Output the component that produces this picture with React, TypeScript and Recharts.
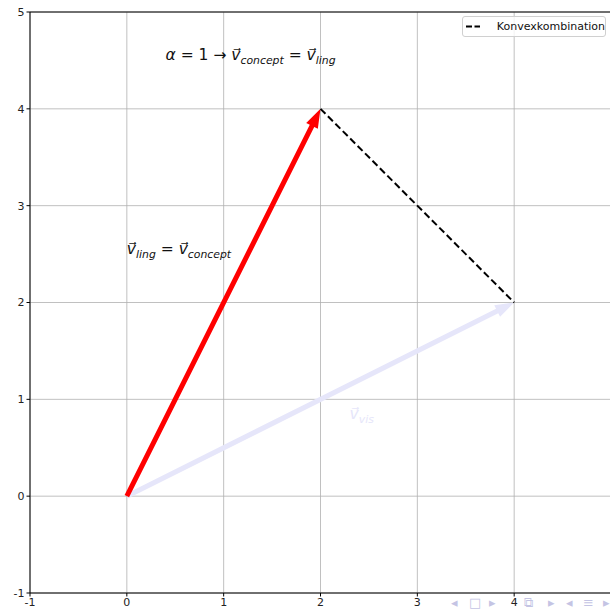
import { ScatterChart, Scatter, XAxis, YAxis, CartesianGrid, ReferenceLine } from 'recharts';

// vectors drawn as arrows / lines (data units)
const lingConcept = [{ x: 0, y: 0 }, { x: 2, y: 4 }];
const visVector = [{ x: 0, y: 0 }, { x: 4, y: 2 }];
const convexLine = [{ x: 2, y: 4 }, { x: 4, y: 2 }];

// annotation anchors
const notes = [
  { x: 0.4, y: 4.5, id: 'alpha' },
  { x: 0.0, y: 2.5, id: 'eq' },
  { x: 2.3, y: 0.8, id: 'vis' },
];

const xTicks = [-1, 0, 1, 2, 3, 4];
const yTicks = [-1, 0, 1, 2, 3, 4, 5];

// beamer navigation glyphs along the bottom edge
const navGlyphs = [
  { ch: '◂', left: 451 },
  { ch: '□', left: 469 },
  { ch: '▸', left: 489 },
  { ch: '⧉', left: 524 },
  { ch: '▸', left: 548 },
  { ch: '◂', left: 566 },
  { ch: '≡', left: 583 },
  { ch: '▸', left: 603 },
];

const RED = '#ff0000';
const LAVENDER = '#e6e6fa';
const FONT = 'DejaVu Sans, sans-serif';

type Pt = { x: number; y: number };

const arrowPoly = (p0: Pt, p1: Pt, w: number, headLen: number, headW: number) => {
  const dx = p1.x - p0.x;
  const dy = p1.y - p0.y;
  const len = Math.sqrt(dx * dx + dy * dy);
  const ux = dx / len, uy = dy / len;
  const nx = -uy, ny = ux;
  const bx = p1.x - ux * headLen, by = p1.y - uy * headLen;
  const pts = [
    [p0.x + nx * w / 2, p0.y + ny * w / 2],
    [bx + nx * w / 2, by + ny * w / 2],
    [bx + nx * headW / 2, by + ny * headW / 2],
    [p1.x, p1.y],
    [bx - nx * headW / 2, by - ny * headW / 2],
    [bx - nx * w / 2, by - ny * w / 2],
    [p0.x - nx * w / 2, p0.y - ny * w / 2],
  ];
  return pts.map((p) => p.join(',')).join(' ');
};

const makeArrow = (color: string) => (props: any) => {
  const pts: Pt[] = props.points || [];
  if (pts.length < 2) return <g />;
  return <polygon points={arrowPoly(pts[0], pts[1], 5, 19, 13)} fill={color} stroke="none" />;
};

const V = ({ sub, last }: { sub: string; last?: boolean }) => (
  <>
    <tspan fontStyle="italic">v⃗</tspan>
    <tspan fontStyle="italic" fontSize="0.7em" dy="4">{sub}</tspan>
    {!last && <tspan dy="-4">{' = '}</tspan>}
  </>
);

const NoteShape = (props: any) => {
  const { cx, cy, payload } = props;
  if (payload.id === 'alpha') {
    return (
      <text x={cx} y={cy} fontFamily={FONT} fontSize={15.5} fill="#111">
        <tspan fontStyle="italic">α</tspan>
        <tspan>{' = 1 → '}</tspan>
        <V sub="concept" />
        <V sub="ling" last />
      </text>
    );
  }
  if (payload.id === 'eq') {
    return (
      <text x={cx} y={cy} fontFamily={FONT} fontSize={15.5} fill="#111">
        <V sub="ling" />
        <V sub="concept" last />
      </text>
    );
  }
  return (
    <text x={cx} y={cy} fontFamily={FONT} fontSize={15.5} fill={LAVENDER}>
      <V sub="vis" last />
    </text>
  );
};

const tickStyle = { fill: '#222', fontSize: 11, fontFamily: FONT };

export default function App() {
  return (
    <div style={{ position: 'absolute', left: 0, top: 0, width: 610, height: 610, overflow: 'hidden', background: '#fff' }}>
      <ScatterChart width={640} height={610} margin={{ top: 12, right: 29, bottom: 0, left: 0 }}>
        <CartesianGrid stroke="#b0b0b0" strokeWidth={0.8} />
        <XAxis
          type="number"
          dataKey="x"
          domain={[-1, 5]}
          ticks={xTicks}
          allowDataOverflow
          height={17}
          tickSize={3.5}
          tickMargin={2}
          stroke="#000"
          tick={tickStyle}
          interval={0}
        />
        <YAxis
          type="number"
          dataKey="y"
          domain={[-1, 5]}
          ticks={yTicks}
          allowDataOverflow
          width={30}
          tickSize={3.5}
          tickMargin={2}
          stroke="#000"
          tick={tickStyle}
          interval={0}
        />
        <ReferenceLine y={5} stroke="#000" strokeWidth={1} />
        <ReferenceLine x={5} stroke="#000" strokeWidth={1} />
        <Scatter data={visVector} shape={() => <g />} line={makeArrow(LAVENDER)} isAnimationActive={false} />
        <Scatter data={lingConcept} shape={() => <g />} line={makeArrow(RED)} isAnimationActive={false} />
        <Scatter
          name="Konvexkombination"
          data={convexLine}
          shape={() => <g />}
          line={{ stroke: '#000', strokeWidth: 2, strokeDasharray: '7 3.5' }}
          fill="#000"
          isAnimationActive={false}
        />
        <Scatter data={notes} shape={NoteShape} isAnimationActive={false} />
      </ScatterChart>
      <div
        style={{
          position: 'absolute',
          top: 16,
          left: 462,
          width: 142,
          height: 19,
          border: '1px solid #d0d0d0',
          borderRadius: 3,
          background: 'rgba(255,255,255,0.8)',
          display: 'flex',
          alignItems: 'center',
          fontFamily: FONT,
          fontSize: 11,
          color: '#111',
        }}
      >
        <svg width={30} height={19}>
          <line x1={3} y1={9.5} x2={17} y2={9.5} stroke="#000" strokeWidth={2.2} strokeDasharray="6 2.5" />
        </svg>
        <span style={{ marginLeft: 4 }}>Konvexkombination</span>
      </div>
      {navGlyphs.map((g, i) => (
        <span
          key={i}
          style={{ position: 'absolute', top: 596, left: g.left, fontSize: 13, color: '#c4c4e4', fontFamily: FONT, lineHeight: '14px' }}
        >
          {g.ch}
        </span>
      ))}
    </div>
  );
}
